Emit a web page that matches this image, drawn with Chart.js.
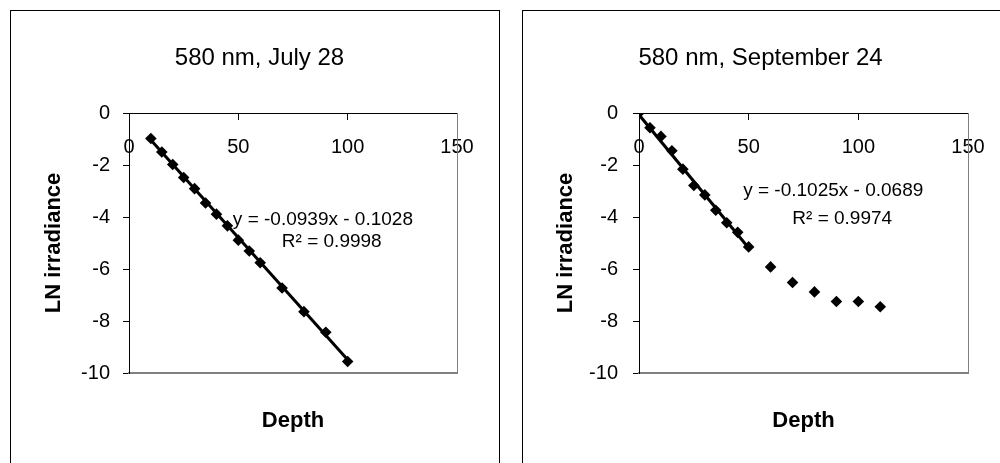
<!DOCTYPE html>
<html><head><meta charset="utf-8">
<script src="https://cdn.jsdelivr.net/npm/chart.js@4/dist/chart.umd.min.js"></script>
<style>
html,body{margin:0;padding:0;background:#fff;overflow:hidden;width:1000px;height:463px;position:relative;}
.box{position:absolute;top:10px;border:1px solid #000;background:#fff;width:488px;height:480px;}
#boxL{left:10px;}
#boxR{left:522px;}
canvas{display:block;}
</style></head><body>
<div class="box" id="boxL"><canvas id="cL" width="488" height="460" style="width:488px;height:460px"></canvas></div>
<div class="box" id="boxR"><canvas id="cR" width="488" height="460" style="width:488px;height:460px"></canvas></div>
<script>
// ---- data ----
const julyDepth = [10, 15, 20, 25, 30, 35, 40, 45, 50, 55, 60, 70, 80, 90, 100];
const julyLnIrr = [-0.98, -1.50, -1.98, -2.48, -2.91, -3.46, -3.89, -4.34, -4.89, -5.31, -5.76, -6.73, -7.64, -8.43, -9.56];
const julyTrendDepth = [10, 100];
const julyTrendLn = [-1.04, -9.49];
const sepDepth = [0, 5, 10, 15, 20, 25, 30, 35, 40, 45, 50, 60, 70, 80, 90, 100, 110];
const sepLnIrr = [0, -0.57, -0.90, -1.45, -2.16, -2.79, -3.15, -3.74, -4.22, -4.59, -5.15, -5.92, -6.52, -6.88, -7.25, -7.25, -7.45];
const sepTrendDepth = [0, 50];
const sepTrendLn = [-0.07, -5.19];
const depthTicks = [0, 50, 100, 150];
const lnTicks = [0, -2, -4, -6, -8, -10];
const chartTitles = ['580 nm, July 28', '580 nm, September 24'];
const xTitle = 'Depth';
const yTitle = 'LN irradiance';
const julyEq = ['y = -0.0939x - 0.1028', 'R\u00B2 = 0.9998'];
const sepEq = ['y = -0.1025x - 0.0689', 'R\u00B2 = 0.9974'];

Chart.defaults.font.family = '"Liberation Sans", Arial, Helvetica, sans-serif';
Chart.defaults.color = '#000';

const eqPlugin = {
  id: 'eq',
  afterDatasetsDraw(chart, args, opts) {
    const {ctx, scales} = chart;
    ctx.save();
    ctx.font = '19px "Liberation Sans", Arial, sans-serif';
    ctx.fillStyle = '#000';
    ctx.textAlign = 'left';
    ctx.textBaseline = 'middle';
    (opts.lines || []).forEach(l => {
      ctx.fillText(l.text, scales.x.getPixelForValue(l.x), scales.y.getPixelForValue(l.y));
    });
    ctx.restore();
  }
};

function makeChart(id, p) {
  return new Chart(document.getElementById(id), {
    type: 'scatter',
    data: {
      datasets: [
        {
          label: 'trend',
          data: p.tx.map((x, i) => ({x: x, y: p.ty[i]})),
          showLine: true, borderColor: '#000', borderWidth: 3,
          pointRadius: 0, fill: false, order: 1
        },
        {
          label: 'points',
          data: p.x.map((x, i) => ({x: x, y: p.y[i]})),
          pointStyle: 'rectRot', pointRadius: 5.8,
          backgroundColor: '#000', borderColor: '#000', borderWidth: 0,
          clip: 0, order: 0
        }
      ]
    },
    options: {
      responsive: false, animation: false, devicePixelRatio: 1,
      layout: {padding: {left: p.padL, right: p.padR, top: 0, bottom: 36.8}},
      plugins: {
        legend: {display: false},
        tooltip: {enabled: false},
        title: {display: true, text: p.title, color: '#000',
                font: {size: 24, weight: 'normal'}, padding: {top: 33.1, bottom: 40.1}},
        eq: {lines: p.eq}
      },
      scales: {
        x: {
          type: 'linear', position: {y: 0}, min: 0, max: 150,
          afterBuildTicks: s => { s.ticks = depthTicks.map(v => ({value: v})); },
          grid: {display: true, drawOnChartArea: false, tickLength: 6, color: '#000'},
          border: {display: true, color: '#000', width: 1},
          ticks: {font: {size: 20}, padding: 16.4, color: '#000', maxRotation: 0, autoSkip: false}
        },
        x2: {
          type: 'linear', position: 'bottom', min: 0, max: 150,
          grid: {display: false},
          border: {display: true, color: '#808080', width: 2},
          ticks: {display: false},
          title: {display: true, text: xTitle, color: '#000', font: {size: 22, weight: 'bold'}, padding: {top: 26.8, bottom: 0}}
        },
        y: {
          type: 'linear', position: 'left', min: -10, max: 0,
          afterBuildTicks: s => { s.ticks = lnTicks.map(v => ({value: v})); },
          afterFit: s => { s.width = p.yW; },
          grid: {display: true, drawOnChartArea: false, tickLength: 6, color: '#000'},
          border: {display: true, color: '#000', width: 1},
          ticks: {font: {size: 20}, padding: p.yPad, color: '#000', autoSkip: false},
          title: {display: true, text: yTitle, color: '#000', font: {size: 22, weight: 'bold'}, padding: {top: p.yTitlePad, bottom: 0}}
        },
        y2: {
          type: 'linear', position: 'right', min: -10, max: 0,
          afterFit: s => { s.width = p.y2W; },
          grid: {display: false},
          border: {display: true, color: '#808080', width: 1},
          ticks: {display: false}
        }
      }
    },
    plugins: [eqPlugin]
  });
}

makeChart('cL', {
  x: julyDepth, y: julyLnIrr, tx: julyTrendDepth, ty: julyTrendLn,
  title: chartTitles[0], padL: 9, padR: 0, yW: 109, y2W: 42, yPad: 13, yTitlePad: 20.8,
  eq: [{text: julyEq[0], x: 47.5, y: -4.10}, {text: julyEq[1], x: 69.9, y: -4.94}]
});
makeChart('cR', {
  x: sepDepth, y: sepLnIrr, tx: sepTrendDepth, ty: sepTrendLn,
  title: chartTitles[1], padL: 0, padR: 13, yW: 116, y2W: 30, yPad: 15, yTitlePad: 29.8,
  eq: [{text: sepEq[0], x: 47.5, y: -2.99}, {text: sepEq[1], x: 69.9, y: -4.07}]
});
</script>
</body></html>
